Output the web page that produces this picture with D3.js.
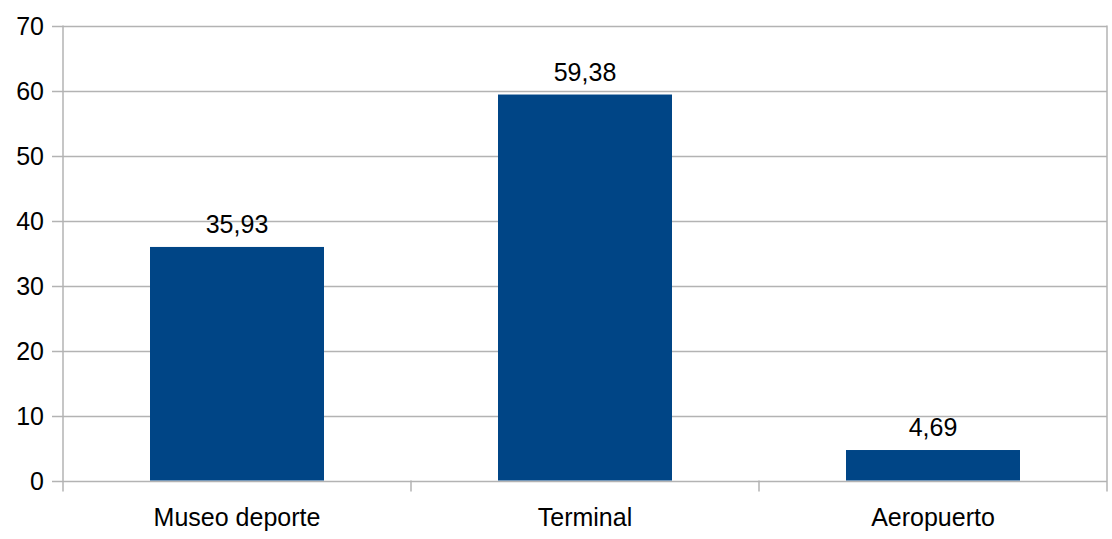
<!DOCTYPE html>
<html>
<head>
<meta charset="utf-8">
<script src="https://cdn.jsdelivr.net/npm/d3@7"></script>
<style>
  body { margin: 0; background: #fff; }
  svg { display: block; }
  text { font-family: "Liberation Sans", Arial, sans-serif; fill: #000; }
</style>
</head>
<body>
<svg id="chart" width="1112" height="539"></svg>
<script>
const categories = ["Museo deporte", "Terminal", "Aeropuerto"];
const values = [35.93, 59.38, 4.69];
const valueLabels = ["35,93", "59,38", "4,69"];
const yTicks = [0, 10, 20, 30, 40, 50, 60, 70];

const svg = d3.select("#chart");
const margin = { left: 63, right: 1107, top: 25.5, bottom: 480.5 };

const x = d3.scaleBand().domain(categories).range([margin.left, margin.right]).paddingInner(0.5).paddingOuter(0.25);
const xEdges = d3.scaleBand().domain(categories).range([margin.left, margin.right]);
const y = d3.scaleLinear().domain([0, 70]).range([margin.bottom, margin.top]);

const grid = "#b3b3b3";
const fontSize = 25;

// gridlines (with left tick stubs)
svg.append("g").selectAll("line").data(yTicks).join("line")
  .attr("x1", margin.left - 11).attr("x2", margin.right)
  .attr("y1", d => Math.round(y(d)) + 0.5).attr("y2", d => Math.round(y(d)) + 0.5)
  .attr("stroke", grid).attr("stroke-width", 1.5);

// y axis labels
svg.append("g").selectAll("text").data(yTicks).join("text")
  .attr("x", 44).attr("y", d => y(d))
  .attr("text-anchor", "end").attr("dominant-baseline", "central")
  .style("font-size", fontSize + "px")
  .text(d => d);

// bars
svg.append("g").selectAll("rect").data(values).join("rect")
  .attr("x", (d, i) => x(categories[i]))
  .attr("width", x.bandwidth())
  .attr("y", d => y(d))
  .attr("height", d => y(0) - y(d))
  .attr("fill", "#004586");

// vertical axis lines / category ticks
const edgeXs = categories.map(c => xEdges(c)).concat([margin.right]);
svg.append("g").selectAll("line").data(edgeXs).join("line")
  .attr("x1", d => d).attr("x2", d => d)
  .attr("y1", (d, i) => (i === 0 || i === edgeXs.length - 1) ? margin.top : margin.bottom)
  .attr("y2", margin.bottom + 11)
  .attr("stroke", grid).attr("stroke-width", 1.5);

// value labels
svg.append("g").selectAll("text").data(values).join("text")
  .attr("x", (d, i) => x(categories[i]) + x.bandwidth() / 2)
  .attr("y", d => y(d) - 14)
  .attr("text-anchor", "middle")
  .style("font-size", fontSize + "px")
  .text((d, i) => valueLabels[i]);

// category labels
svg.append("g").selectAll("text").data(categories).join("text")
  .attr("x", d => x(d) + x.bandwidth() / 2)
  .attr("y", 526)
  .attr("text-anchor", "middle")
  .style("font-size", fontSize + "px")
  .text(d => d);
</script>
</body>
</html>
